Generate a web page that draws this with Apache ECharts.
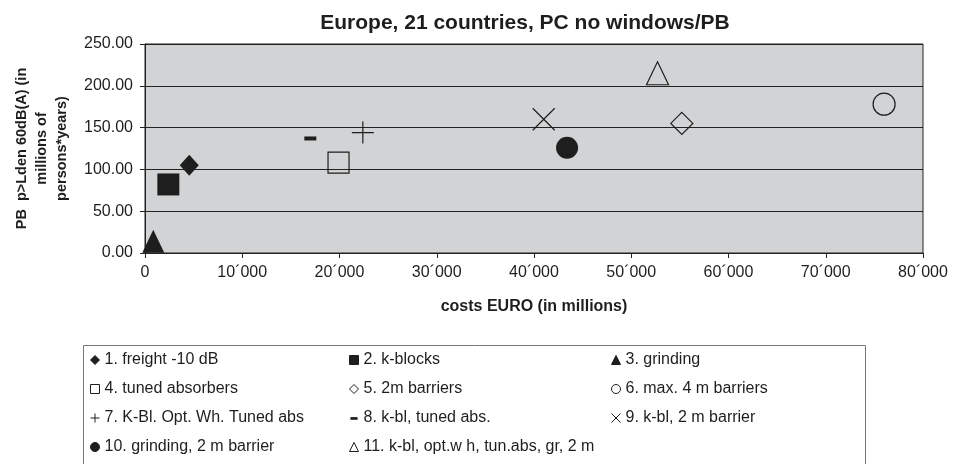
<!DOCTYPE html>
<html>
<head>
<meta charset="utf-8">
<script src="https://cdn.jsdelivr.net/npm/echarts@6/dist/echarts.min.js"></script>
<style>
html, body { margin: 0; padding: 0; background: #fff; }
#main { width: 953px; height: 464px; }
</style>
</head>
<body>
<div id="main"></div>
<script>
// measures: cost (millions EURO) and PB value
var names = [
	'1. freight -10 dB', '2. k-blocks', '3. grinding',
	'4. tuned absorbers', '5. 2m barriers', '6. max. 4 m barriers',
	'7. K-Bl. Opt. Wh. Tuned abs', '8. k-bl, tuned abs.', '9. k-bl, 2 m barrier',
	'10. grinding, 2 m barrier', '11. k-bl, opt.w h, tun.abs, gr, 2 m'
];
var costs = [4550, 2400, 850, 19900, 55200, 76000, 22400, 17000, 41000, 43400, 52700];
var pb = [105, 82, 14, 108, 155, 178, 144, 137, 160, 126, 215];
var xTicks = [0, 10000, 20000, 30000, 40000, 50000, 60000, 70000, 80000];
var yTicks = [0, 50, 100, 150, 200, 250];

var font = 'Liberation Sans, Arial, sans-serif';
var ink = '#1e1e1e';

var marks = [
	{ symbol: 'diamond', size: [19, 21], fill: ink },
	{ symbol: 'rect', size: [22, 22], fill: ink },
	{ symbol: 'triangle', size: [22, 23], fill: ink },
	{ symbol: 'rect', size: [21, 21], fill: 'rgba(0,0,0,0)' },
	{ symbol: 'diamond', size: [22, 22], fill: 'rgba(0,0,0,0)' },
	{ symbol: 'circle', size: [22, 22], fill: 'rgba(0,0,0,0)' },
	{ symbol: 'path://M0,10L20,10M10,0L10,20', size: [22, 22], fill: 'none' },
	{ symbol: 'rect', size: [12, 4], fill: ink },
	{ symbol: 'path://M0,0L20,20M20,0L0,20', size: [22, 22], fill: 'none' },
	{ symbol: 'circle', size: [22, 22], fill: ink },
	{ symbol: 'triangle', size: [22, 23], fill: 'rgba(0,0,0,0)' }
];

var series = [];
for (var i = 0; i < names.length; i++) {
	var m = marks[i];
	series.push({
		name: names[i],
		type: 'scatter',
		symbol: m.symbol,
		symbolSize: m.size,
		itemStyle: {
			color: m.fill,
			borderColor: ink,
			borderWidth: m.fill === ink ? 0 : 1.2,
			opacity: 1
		},
		emphasis: { disabled: true },
		data: [[costs[i], pb[i]]]
	});
}

function legendCol(idx, left) {
	var data = idx.map(function (k) {
		if (k === 7) return { name: names[k], icon: 'path://M0,0L0,0M10,10L10,10M1,4h8v3h-8z' };
		return { name: names[k], itemStyle: { borderWidth: 1 } };
	});
	return {
		orient: 'vertical',
		left: left,
		top: 351,
		padding: 0,
		itemWidth: 9,
		itemHeight: 9,
		itemGap: 11,
		selectedMode: false,
		textStyle: { fontFamily: font, fontSize: 16, color: ink, lineHeight: 18 },
		data: data
	};
}

var chart = echarts.init(document.getElementById('main'));
chart.setOption({
	backgroundColor: '#fff',
	animation: false,
	title: {
		text: 'Europe, 21 countries, PC no windows/PB',
		left: 520,
		textAlign: 'center',
		top: 8,
		textStyle: { fontFamily: font, fontSize: 21, fontWeight: 'bold', color: ink }
	},
	legend: [
		legendCol([0, 3, 6, 9], 88),
		legendCol([1, 4, 7, 10], 349),
		legendCol([2, 5, 8], 609)
	],
	grid: {
		left: 145, right: 30, top: 44, bottom: 211,
		show: true, backgroundColor: '#d2d3d5', borderColor: '#222', borderWidth: 1
	},
	xAxis: {
		type: 'value',
		min: xTicks[0],
		max: xTicks[xTicks.length - 1],
		interval: 10000,
		name: 'costs EURO (in millions)',
		nameLocation: 'middle',
		nameGap: 46,
		nameTextStyle: { fontFamily: font, fontSize: 16, fontWeight: 'bold', color: ink },
		axisLine: { lineStyle: { color: '#222', width: 1 } },
		axisTick: { inside: false, length: 5, lineStyle: { color: '#222' } },
		axisLabel: {
			margin: 12, fontFamily: font, fontSize: 16, color: ink,
			formatter: function (v) { return v === 0 ? '0' : (v / 1000) + '\u00b4000'; }
		},
		splitLine: { show: false }
	},
	yAxis: {
		type: 'value',
		min: yTicks[0],
		max: yTicks[yTicks.length - 1],
		interval: 50,
		name: 'PB  p>Lden 60dB(A) (in\nmillions of\npersons*years)',
		nameLocation: 'middle',
		nameRotate: 90,
		nameGap: 73,
		nameTextStyle: { fontFamily: font, fontSize: 14.5, fontWeight: 'bold', color: ink, lineHeight: 20, align: 'center' },
		axisLine: { show: true, lineStyle: { color: '#222', width: 1 } },
		axisTick: { show: true, inside: false, length: 5, lineStyle: { color: '#222' } },
		axisLabel: {
			margin: 12, fontFamily: font, fontSize: 16, color: ink,
			formatter: function (v) { return v.toFixed(2); }
		},
		splitLine: { show: true, lineStyle: { color: '#222', width: 1 } }
	},
	graphic: [{
		type: 'rect',
		shape: { x: 83.5, y: 345.5, width: 782, height: 130 },
		style: { fill: 'none', stroke: '#777', lineWidth: 1 },
		silent: true
	}],
	series: series
});
</script>
</body>
</html>
